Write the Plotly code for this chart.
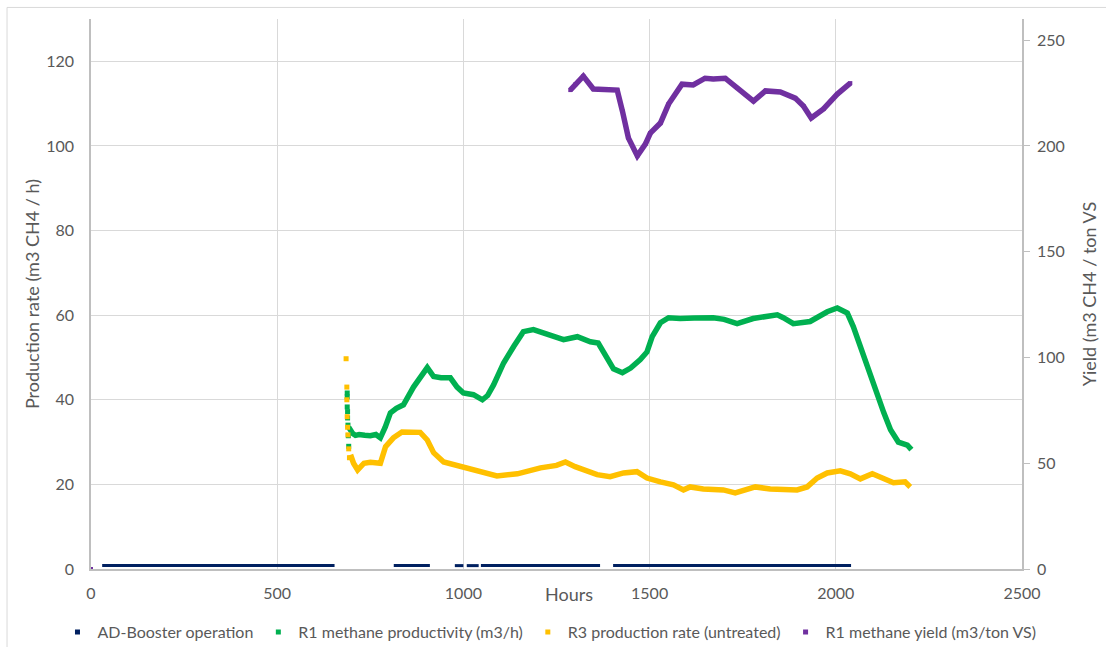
import plotly.graph_objects as go

# ---------------- data ----------------
# AD-Booster operation periods (hours), drawn at a constant low level
booster_start = [30, 813, 977, 1009, 1047, 1402]
booster_end = [654, 910, 1000, 1041, 1367, 2041]
booster_level = 0.8

# R1 methane productivity (m3/h) - early scattered points
r1_early_h = [688, 688, 688, 689, 689, 690, 691, 692]
r1_early_v = [41.6, 40.7, 38.3, 37.2, 35.7, 34.0, 31.5, 29.0]
# R1 methane productivity (m3/h)
r1_h = [692, 697, 703, 710, 720, 735, 750, 765, 777, 790, 804, 820, 839, 866, 890, 903,
        920, 940, 965, 983, 1000, 1027, 1051, 1065, 1081, 1108, 1135, 1161, 1188, 1225,
        1269, 1306, 1341, 1362, 1385, 1403, 1427, 1449, 1475, 1493, 1507, 1529, 1551,
        1582, 1620, 1671, 1700, 1735, 1778, 1843, 1859, 1886, 1931, 1977, 2004, 2031,
        2047, 2071, 2093, 2111, 2129, 2147, 2168, 2192, 2203]
r1_v = [33.5, 32.5, 32.0, 31.6, 31.8, 31.6, 31.5, 31.8, 31.0, 33.5, 36.9, 38.0, 38.8, 43.0,
        46.0, 47.6, 45.5, 45.2, 45.2, 43.0, 41.6, 41.2, 40.0, 41.0, 43.5, 48.7, 52.6, 56.1,
        56.6, 55.4, 54.2, 54.9, 53.7, 53.4, 50.3, 47.3, 46.4, 47.5, 49.5, 51.3, 54.9, 58.2,
        59.4, 59.2, 59.3, 59.4, 59.0, 58.0, 59.2, 60.1, 59.4, 58.0, 58.5, 60.8, 61.7, 60.5,
        57.3, 51.1, 45.4, 40.7, 36.9, 32.9, 30.0, 29.3, 28.2]

# R3 production rate (untreated) - early scattered points
r3_early_h = [685, 687, 687, 688, 689, 690, 692, 694]
r3_early_v = [49.7, 43.0, 40.0, 36.0, 33.5, 31.7, 28.4, 26.3]
# R3 production rate (untreated)
r3_h = [697, 705, 716, 733, 750, 777, 791, 812, 835, 860, 884, 903, 920, 947, 1000, 1045,
        1090, 1145, 1207, 1250, 1274, 1300, 1322, 1359, 1394, 1430, 1466, 1493, 1529, 1564,
        1591, 1609, 1644, 1698, 1730, 1752, 1784, 1824, 1896, 1923, 1950, 1977, 2012, 2039,
        2066, 2098, 2129, 2155, 2186, 2200]
r3_v = [27.0, 25.0, 23.4, 25.0, 25.2, 25.0, 28.9, 31.0, 32.4, 32.5, 32.3, 30.5, 27.5, 25.3,
        24.1, 23.0, 22.0, 22.5, 23.9, 24.5, 25.3, 24.2, 23.4, 22.3, 21.8, 22.7, 23.0, 21.5,
        20.6, 19.9, 18.7, 19.4, 18.9, 18.7, 18.0, 18.5, 19.4, 18.9, 18.7, 19.4, 21.5, 22.7,
        23.2, 22.5, 21.3, 22.5, 21.3, 20.4, 20.6, 19.4]

# R1 methane yield (m3/ton VS) - secondary axis
yield_h = [0, None, 1287, 1301, 1322, 1349, 1380, 1413, 1427, 1443, 1467, 1489, 1502, 1529,
           1551, 1587, 1617, 1649, 1671, 1703, 1735, 1779, 1811, 1851, 1891, 1913, 1934,
           1967, 2004, 2039]
yield_v = [0, None, 226.4, 229.2, 233.0, 226.9, 226.5, 226.4, 216.5, 203.8, 195.3, 201.0,
           206.1, 210.8, 219.8, 229.2, 228.8, 232.0, 231.6, 232.0, 227.4, 221.2, 226.0,
           225.5, 222.6, 218.9, 213.2, 217.5, 224.5, 229.7]

series_names = ["AD-Booster operation", "R1 methane productivity (m3/h)",
                "R3 production rate (untreated)", "R1 methane yield (m3/ton VS)"]
colors = ["#002060", "#00B050", "#FFC000", "#7030A0"]

TXT = "#595959"
GRID = "#D9D9D9"
AXIS = "#BFBFBF"
FONT = "Lato"

fig = go.Figure()

# AD-Booster segments
bx, by = [], []
for s, e in zip(booster_start, booster_end):
    bx += [s, e, None]
    by += [booster_level, booster_level, None]
fig.add_trace(go.Scatter(x=bx, y=by, mode="lines", line=dict(color=colors[0], width=3),
                         showlegend=False, hoverinfo="skip"))

# R1 productivity
fig.add_trace(go.Scatter(x=r1_h, y=r1_v, mode="lines", line=dict(color=colors[1], width=5.5),
                         showlegend=False))
fig.add_trace(go.Scatter(x=r1_early_h, y=r1_early_v, mode="markers",
                         marker=dict(color=colors[1], size=5, symbol="square"),
                         showlegend=False))
# R3
fig.add_trace(go.Scatter(x=r3_h, y=r3_v, mode="lines", line=dict(color=colors[2], width=5.5),
                         showlegend=False))
fig.add_trace(go.Scatter(x=r3_early_h, y=r3_early_v, mode="markers",
                         marker=dict(color=colors[2], size=5, symbol="square"),
                         showlegend=False))
# Yield on secondary axis
fig.add_trace(go.Scatter(x=yield_h, y=yield_v, mode="lines+markers", yaxis="y2",
                         line=dict(color=colors[3], width=5.5),
                         marker=dict(color=colors[3], size=4, symbol="square"),
                         connectgaps=False, showlegend=False))

# legend entries (marker style like the original)
for name, c in zip(series_names, colors):
    fig.add_trace(go.Scatter(x=[None], y=[None], mode="markers", name=name,
                             marker=dict(color=c, size=5, symbol="square")))

fig.update_layout(
    width=1106, height=647,
    margin=dict(l=91, r=84, t=19, b=78, autoexpand=False),
    paper_bgcolor="white", plot_bgcolor="white",
    font=dict(family=FONT, size=15, color=TXT),
    xaxis=dict(range=[0, 2500], dtick=500, tick0=0, showgrid=True, gridcolor=GRID,
               gridwidth=1, showline=True, linecolor=AXIS, linewidth=1.5, zeroline=False,
               ticks="", tickfont=dict(size=16, color=TXT), ticklabelstandoff=9,
               automargin=False),
    yaxis=dict(range=[0, 130], dtick=20, tick0=0, showgrid=True, gridcolor=GRID,
               gridwidth=1, showline=True, linecolor=AXIS, linewidth=1.5, zeroline=False,
               ticks="", tickfont=dict(size=16, color=TXT), ticklabelstandoff=12,
               automargin=False,
               title=dict(text="Production rate (m3 CH4 / h)",
                          font=dict(size=18, color=TXT), standoff=2)),
    yaxis2=dict(range=[0, 260], dtick=50, tick0=0, overlaying="y", side="right",
                showgrid=False, showline=True, linecolor=AXIS, linewidth=1.5,
                zeroline=False, ticks="outside", ticklen=6, tickcolor=AXIS,
                tickfont=dict(size=16, color=TXT), ticklabelstandoff=4,
                automargin=False,
                title=dict(text="Yield (m3 CH4 / ton VS", font=dict(size=18, color=TXT),
                           standoff=20)),
    legend=dict(orientation="h", xref="paper", yref="paper",
                x=-0.036, xanchor="left", y=-0.1145, yanchor="middle",
                font=dict(size=16, color=TXT), itemwidth=30, tracegroupgap=0,
                bgcolor="rgba(0,0,0,0)"),
    showlegend=True,
    annotations=[dict(text="Hours", xref="paper", yref="paper", x=0.513, y=-0.045,
                      xanchor="center", yanchor="middle", showarrow=False,
                      font=dict(size=18, color=TXT))],
    shapes=[dict(type="rect", xref="paper", yref="paper", x0=-0.0902, x1=1.3,
                 y0=-0.3, y1=1.021, line=dict(color=GRID, width=1), layer="below")],
)

fig.write_html("out.html", config={"displayModeBar": False},
               post_script="document.body.style.margin='0';document.body.style.overflow='hidden';")
